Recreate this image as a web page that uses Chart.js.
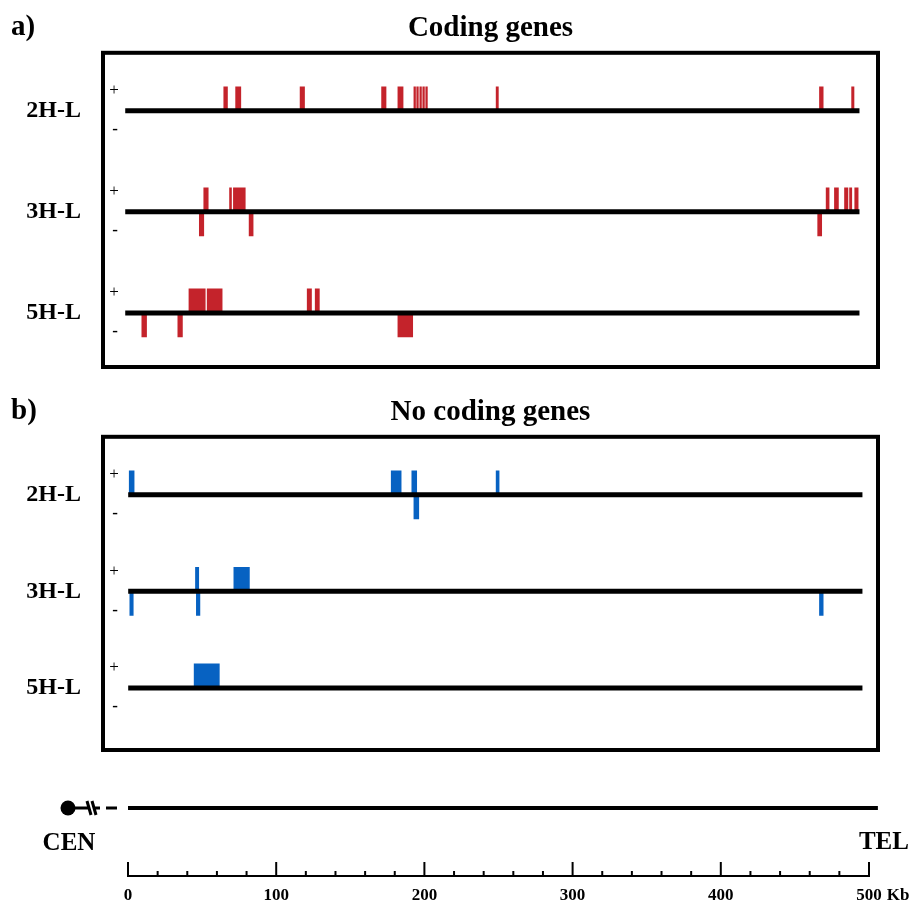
<!DOCTYPE html>
<html>
<head>
<meta charset="utf-8">
<title>Coding / no coding genes</title>
<script src="https://cdn.jsdelivr.net/npm/chart.js@4.4.1/dist/chart.umd.min.js"></script>
<style>
  html, body { margin: 0; padding: 0; background: #fff; overflow: hidden; }
  .wrap { position: absolute; left: 0; width: 919px; }
</style>
</head>
<body>
<div class="wrap" style="top:0;height:380px"><canvas id="codingChart" width="919" height="380"></canvas></div>
<div class="wrap" style="top:384px;height:380px"><canvas id="noncodingChart" width="919" height="380"></canvas></div>
<div class="wrap" style="top:770px;height:135px"><canvas id="scaleChart" width="919" height="135"></canvas></div>

<script>
// chromosome arms shown in each panel
const chromosomes = ['2H-L', '3H-L', '5H-L'];

// gene positions, [start, end] in Kb from the break point
const coding2HPlus = [[64.5, 67], [72.5, 76], [116, 119], [171, 174], [182, 185.5],
  [192.8, 193.9], [194.7, 195.8], [196.8, 197.9], [198.8, 199.9], [200.8, 201.9],
  [248.3, 249.8], [466.5, 469], [488.2, 489.8]];
const coding2HMinus = [];
const coding3HPlus = [[51, 54], [68.4, 69.7], [71, 79], [471, 473], [476.6, 479.3],
  [483.4, 485.7], [486.8, 488.3], [490.3, 492.6]];
const coding3HMinus = [[48, 51], [81.6, 84.3], [465.3, 468]];
const coding5HPlus = [[41, 52], [53.3, 63.4], [120.8, 123.7], [126.2, 129]];
const coding5HMinus = [[9.2, 12.4], [33.5, 36.6], [182, 192]];

const noncoding2HPlus = [[0.7, 4], [177.5, 184.2], [191.4, 194.7], [248.3, 250.3]];
const noncoding2HMinus = [[192.8, 196.1]];
const noncoding3HPlus = [[45.4, 47.6], [71.3, 81.8]];
const noncoding3HMinus = [[1.1, 3.4], [46, 48.4], [466.5, 469]];
const noncoding5HPlus = [[44.5, 61.5]];
const noncoding5HMinus = [];

// extent of the drawn chromosome lines (Kb)
const codingSpan = [-2, 493.5];
const noncodingSpan = [0, 495.5];
const scaleSpan = [0, 506];

// bottom scale
const scaleMax = 500;
const scaleStep = 20;
const scaleUnit = 'Kb';

const FONT = '"Liberation Serif", "Times New Roman", serif';

const panelDecor = {
  id: 'panelDecor',
  afterDatasetsDraw(chart, args, opts) {
    const { ctx, chartArea: a, scales: { y } } = chart;
    ctx.save();
    ctx.lineWidth = 4;
    ctx.strokeStyle = '#000';
    ctx.strokeRect(a.left, a.top, a.right - a.left, a.bottom - a.top);
    ctx.fillStyle = '#000';
    ctx.textAlign = 'center';
    ctx.textBaseline = 'middle';
    chromosomes.forEach((c, i) => {
      const yp = y.getPixelForValue(i);
      ctx.font = '17px ' + FONT;
      ctx.fillText('+', a.left + 11, yp - 20);
      ctx.font = 'bold 17px ' + FONT;
      ctx.fillText('-', a.left + 12, yp + 19);
    });
    ctx.font = 'bold 29px ' + FONT;
    ctx.textAlign = 'left';
    ctx.fillText(opts.letter, 11, 28);
    ctx.restore();
  }
};

function buildPanel(id, title, letter, plusSets, minusSets, span, color, yMin, yMax, strandOffset, padBottom) {
  const toBars = (sets, dir) => sets.flatMap((genes, row) =>
    genes.map(g => ({ x: g, y: row + dir * strandOffset })));

  const datasets = chromosomes.map((c, row) => ({
    type: 'line',
    label: c,
    data: [{ x: span[0], y: row }, { x: span[1], y: row }],
    borderColor: '#000',
    borderWidth: 5,
    pointRadius: 0,
    order: 0
  }));
  datasets.push({
    type: 'bar',
    label: 'plus',
    data: toBars(plusSets, -1),
    backgroundColor: color,
    barThickness: 24,
    grouped: false,
    order: 1
  });
  datasets.push({
    type: 'bar',
    label: 'minus',
    data: toBars(minusSets, 1),
    backgroundColor: color,
    barThickness: 24,
    grouped: false,
    order: 1
  });

  return new Chart(document.getElementById(id), {
    type: 'bar',
    data: { datasets },
    options: {
      indexAxis: 'y',
      responsive: false,
      animation: false,
      layout: { padding: { left: 0, right: 41, top: 0, bottom: padBottom } },
      plugins: {
        legend: { display: false },
        tooltip: { enabled: false },
        title: {
          display: true,
          text: title,
          fullSize: false,
          color: '#000',
          font: { family: FONT, size: 29, weight: 'bold' },
          padding: { top: 11, bottom: 7 }
        },
        panelDecor: { letter }
      },
      scales: {
        x: { type: 'linear', min: -17, max: 506, offset: false, display: false },
        y: {
          type: 'linear',
          min: yMin,
          max: yMax,
          offset: false,
          reverse: true,
          grid: { display: false, drawTicks: false, offset: false },
          border: { display: false },
          afterBuildTicks: s => { s.ticks = chromosomes.map((c, i) => ({ value: i })); },
          afterFit: s => { s.width = 103; s.paddingTop = 0; s.paddingBottom = 0; },
          ticks: {
            autoSkip: false,
            padding: 22,
            color: '#000',
            font: { family: FONT, size: 24, weight: 'bold' },
            callback: v => chromosomes[v]
          }
        }
      }
    },
    plugins: [panelDecor]
  });
}

buildPanel('codingChart', 'Coding genes', 'a)',
  [coding2HPlus, coding3HPlus, coding5HPlus],
  [coding2HMinus, coding3HMinus, coding5HMinus],
  codingSpan, '#c4232b', -0.574, 2.535, 0.119, 13);

buildPanel('noncodingChart', 'No coding genes', 'b)',
  [noncoding2HPlus, noncoding3HPlus, noncoding5HPlus],
  [noncoding2HMinus, noncoding3HMinus, noncoding5HMinus],
  noncodingSpan, '#0762c2', -0.601, 2.643, 0.124, 14);

// bottom: chromosome sketch with Kb scale
const scaleDecor = {
  id: 'scaleDecor',
  afterDraw(chart) {
    const { ctx, chartArea: a, scales: { x, y } } = chart;
    const axisY = a.bottom;
    ctx.save();
    ctx.strokeStyle = '#000';
    ctx.fillStyle = '#000';
    ctx.lineWidth = 2;
    // tick marks pointing up from the axis
    x.ticks.forEach(t => {
      const px = x.getPixelForValue(t.value);
      const len = t.value % 100 === 0 ? 14 : 5;
      ctx.beginPath();
      ctx.moveTo(px, axisY);
      ctx.lineTo(px, axisY - len);
      ctx.stroke();
    });
    // unit after last label
    ctx.font = 'bold 17px ' + FONT;
    ctx.textBaseline = 'middle';
    ctx.textAlign = 'left';
    const pEnd = x.getPixelForValue(scaleMax);
    const w = ctx.measureText(String(scaleMax)).width;
    ctx.fillText(scaleUnit, pEnd + w / 2 + 5, axisY + 19.5);

    // centromere end with break mark
    const x0 = x.getPixelForValue(0);
    const cy = y.getPixelForValue(1);
    ctx.beginPath();
    ctx.arc(x0 - 60, cy, 7.5, 0, Math.PI * 2);
    ctx.fill();
    ctx.lineWidth = 3;
    ctx.beginPath();
    ctx.moveTo(x0 - 55, cy); ctx.lineTo(x0 - 40, cy);
    ctx.moveTo(x0 - 41, cy - 7); ctx.lineTo(x0 - 37, cy + 7);
    ctx.moveTo(x0 - 36, cy - 7); ctx.lineTo(x0 - 32, cy + 7);
    ctx.moveTo(x0 - 33, cy); ctx.lineTo(x0 - 28, cy);
    ctx.moveTo(x0 - 22, cy); ctx.lineTo(x0 - 11, cy);
    ctx.stroke();

    // end labels
    ctx.font = 'bold 25px ' + FONT;
    ctx.textAlign = 'center';
    ctx.fillText('CEN', x0 - 59, cy + 36);
    ctx.fillText('TEL', x.getPixelForValue(scaleSpan[1]) + 6, cy + 35);
    ctx.restore();
  }
};

new Chart(document.getElementById('scaleChart'), {
  type: 'line',
  data: {
    datasets: [{
      label: 'chromosome',
      data: [{ x: scaleSpan[0], y: 1 }, { x: scaleSpan[1], y: 1 }],
      borderColor: '#000',
      borderWidth: 4,
      pointRadius: c => (c.dataIndex === 1 ? 5 : 0),
      pointBackgroundColor: '#000',
      pointBorderWidth: 0,
      clip: false
    }]
  },
  options: {
    responsive: false,
    animation: false,
    layout: { padding: { left: 128, right: 50, top: 38, bottom: 0 } },
    plugins: { legend: { display: false }, tooltip: { enabled: false } },
    scales: {
      x: {
        type: 'linear',
        min: 0,
        max: scaleMax,
        grid: { display: false, drawTicks: false },
        border: { display: true, color: '#000', width: 2 },
        afterFit: s => { s.height = 29; s.paddingBottom = 0; },
        ticks: {
          stepSize: scaleStep,
          autoSkip: false,
          maxRotation: 0,
          padding: 9,
          color: '#000',
          font: { family: FONT, size: 17, weight: 'bold' },
          callback: v => (v % 100 === 0 ? String(v) : '')
        }
      },
      y: { type: 'linear', min: 0, max: 1, display: false }
    }
  },
  plugins: [scaleDecor]
});
</script>
</body>
</html>
